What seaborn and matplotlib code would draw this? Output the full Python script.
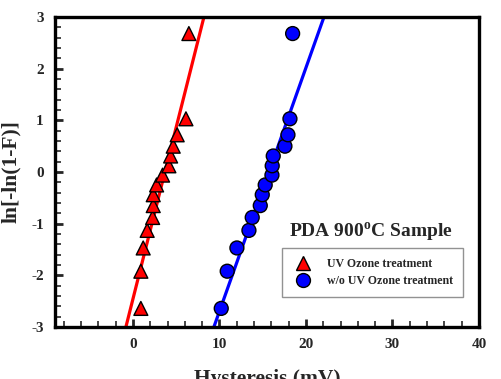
import numpy as np
import pandas as pd
import matplotlib
matplotlib.use('Agg')
import matplotlib.pyplot as plt
from matplotlib.ticker import MultipleLocator
import seaborn as sns

# Weibull plot data
uv_hyst = [0.92, 0.92, 1.19, 1.65, 2.28, 2.35, 2.35, 2.74, 3.43, 4.16, 4.36, 4.66, 5.12, 6.13, 6.47]
wo_hyst = [10.21, 10.90, 12.02, 13.41, 13.79, 14.72, 14.95, 15.29, 16.07, 16.10, 16.22, 17.57, 17.92, 18.15, 18.46]
weibull = [-2.64, -1.92, -1.47, -1.13, -0.88, -0.65, -0.44, -0.25, -0.06, 0.12, 0.31, 0.50, 0.72, 1.03, 2.68]

# fitted lines (end points)
uv_fit_x = [-0.81, 8.21]
wo_fit_x = [9.36, 22.08]
fit_y = [-3.0, 3.0]

labels = ['UV Ozone treatment', 'w/o UV Ozone treatment']

df = pd.DataFrame({
    'Hysteresis': uv_hyst + wo_hyst,
    'W': weibull + weibull,
    'Sample': [labels[0]] * len(uv_hyst) + [labels[1]] * len(wo_hyst),
})
fits = pd.DataFrame({
    'Hysteresis': uv_fit_x + wo_fit_x,
    'W': fit_y + fit_y,
    'Sample': [labels[0]] * 2 + [labels[1]] * 2,
})

sns.set_theme(style='white')
plt.rcParams['font.family'] = ['Liberation Serif', 'DejaVu Serif']
plt.rcParams['font.weight'] = 'bold'
plt.rcParams['axes.unicode_minus'] = False
plt.rcParams['mathtext.fontset'] = 'custom'
plt.rcParams['mathtext.bf'] = 'Liberation Serif:bold'
plt.rcParams['mathtext.rm'] = 'Liberation Serif'

colors = {labels[0]: '#ff0000', labels[1]: '#0000ff'}

fig = plt.figure(figsize=(5.02, 3.79), dpi=100)
ax = fig.add_axes([0.1096, 0.1372, 0.8446, 0.8179])

sns.lineplot(data=fits, x='Hysteresis', y='W', hue='Sample', palette=colors,
             linewidth=2.3, legend=False, ax=ax, zorder=2)
sns.scatterplot(data=df, x='Hysteresis', y='W', hue='Sample', style='Sample',
                palette=colors, markers={labels[0]: '^', labels[1]: 'o'},
                s=100, edgecolor='black', linewidth=1.0, ax=ax, zorder=3)

ax.set_xlim(-9, 40)
ax.set_ylim(-3, 3)
ax.xaxis.set_major_locator(MultipleLocator(10))
ax.xaxis.set_minor_locator(MultipleLocator(2))
ax.yaxis.set_major_locator(MultipleLocator(1))
ax.yaxis.set_minor_locator(MultipleLocator(0.2))
ax.set_xticks([0, 10, 20, 30, 40])
ax.tick_params(which='major', direction='in', length=6, width=2, labelsize=11,
               top=False, right=False, bottom=True, left=True, pad=8)
ax.tick_params(which='minor', direction='in', length=4, width=1.2,
               top=False, right=False, bottom=True, left=True)
for lab in ax.get_xticklabels() + ax.get_yticklabels():
    lab.set_fontweight('bold')
for sp in ax.spines.values():
    sp.set_linewidth(2.4)
    sp.set_color('black')

ax.set_xlabel('Hysteresis (mV)', fontsize=15.5, fontweight='bold', labelpad=13)
ax.set_ylabel('ln[-ln(1-F)]', fontsize=15.5, fontweight='bold', labelpad=7)

ax.text(0.745, 0.306, r'PDA 900$^{\mathbf{o}}$C Sample', transform=ax.transAxes,
        ha='center', va='center', fontsize=14, fontweight='bold')

leg = ax.legend(loc='lower left', bbox_to_anchor=(0.535, 0.097), borderaxespad=0,
                fancybox=False, frameon=True, prop={'size': 8.6, 'weight': 'bold'},
                handletextpad=1.0, borderpad=0.8, labelspacing=0.45,
                markerscale=1.0)
leg.get_frame().set_edgecolor('#777777')
leg.get_frame().set_linewidth(1.0)

fig.savefig('out.png', dpi=100)
